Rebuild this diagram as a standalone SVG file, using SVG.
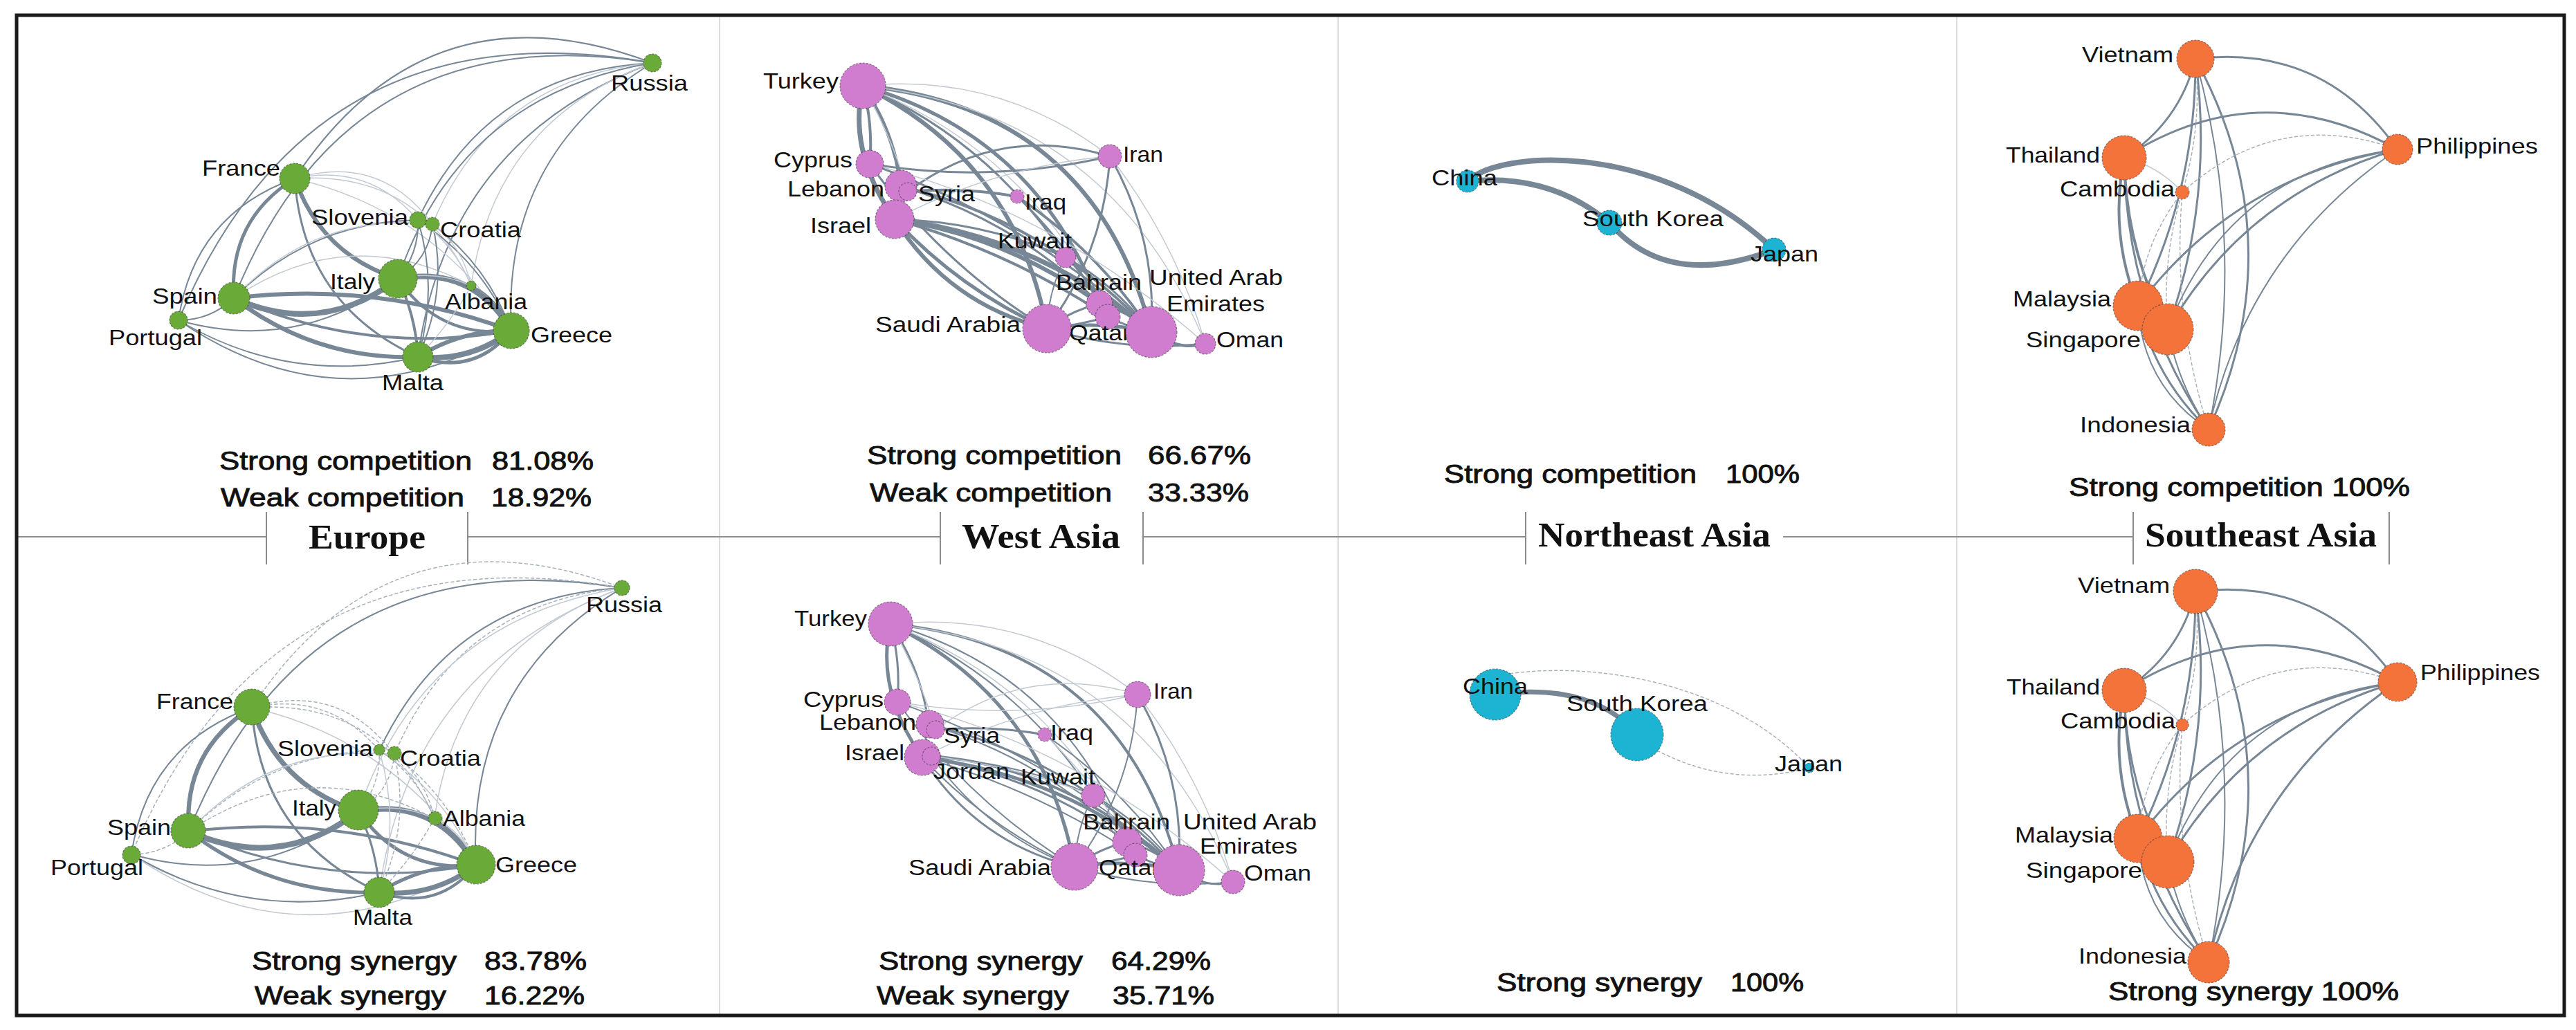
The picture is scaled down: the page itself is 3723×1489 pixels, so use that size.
<svg xmlns="http://www.w3.org/2000/svg" width="3723" height="1489" viewBox="0 0 3723 1489">
<style>
.bg{fill:#ffffff}
.frame{fill:none;stroke:#1a1a1a;stroke-width:5}
.sep{stroke:#dcdcdc;stroke-width:2}
.hl{stroke:#8c8c8c;stroke-width:2;fill:none}
.title{font-family:"Liberation Serif","Times New Roman",serif;font-weight:bold;font-size:50px;fill:#111}
.lbl{font-family:"Liberation Sans",Arial,sans-serif;font-size:32px;fill:#111}
.st{font-family:"Liberation Sans",Arial,sans-serif;font-size:37px;fill:#111;stroke:#111;stroke-width:0.9}
.edges path{fill:none;stroke:#788796;stroke-linecap:round}
.e8{stroke-width:8}.e7{stroke-width:7}.e6{stroke-width:6}.e5{stroke-width:5}.e4{stroke-width:4}.e3{stroke-width:3}.e2{stroke-width:2}
.edges path.el{stroke:#c3cad2;stroke-width:1.5}
.edges path.ed{stroke:#a9b2bc;stroke-width:1.5;stroke-dasharray:4 4}
.n circle{stroke:#333;stroke-opacity:.55;stroke-width:1.2;stroke-dasharray:3 2}
.eu circle{fill:#6aaa38}
.wa circle{fill:#d07dd0}
.ne circle{fill:#1db3d3}
.se circle{fill:#f3733b}
</style>
<rect class="bg" x="0" y="0" width="3723" height="1489"/>
<g id="frame">
<path class="sep" d="M1040,24 V1466 M1934,24 V1466 M2828,24 V1466"/>
<path class="hl" d="M24,776 H385 M676,776 H1359 M1652,776 H2205 M2577,776 H3083"/>
<path class="hl" d="M385,740 V816 M676,740 V816 M1359,740 V816 M1652,740 V816 M2205,740 V816 M3083,740 V816 M3453,740 V816"/>
<rect class="frame" x="24" y="22" width="3682" height="1446"/>
</g>
<g id="titles">
<text class="title" x="446" y="793" textLength="169" lengthAdjust="spacingAndGlyphs">Europe</text>
<text class="title" x="1390" y="792" textLength="229" lengthAdjust="spacingAndGlyphs">West Asia</text>
<text class="title" x="2223" y="790" textLength="336" lengthAdjust="spacingAndGlyphs">Northeast Asia</text>
<text class="title" x="3100" y="790" textLength="335" lengthAdjust="spacingAndGlyphs">Southeast Asia</text>
</g>
<g id="connectors" class="edges">
<g id="eu-top-edges">
<path class="e2" d="M426,258 Q618,-32 943,91"/>
<path class="e2" d="M338,431 Q504,19 943,91"/>
<path class="e2" d="M258,463 Q452,3 943,91"/>
<path class="e2" d="M604,318 Q705,103 943,91"/>
<path class="el" d="M625,324 Q714,112 943,91"/>
<path class="e2" d="M575,403 Q665,137 943,91"/>
<path class="e2" d="M604,516 Q646,202 943,91"/>
<path class="e2" d="M739,478 Q725,223 943,91"/>
<path class="el" d="M681,413 Q715,173 943,91"/>
<path class="e5" d="M338,431 Q330,318 426,258"/>
<path class="e2" d="M258,463 Q280,310 426,258"/>
<path class="e6" d="M575,403 Q464,368 426,258"/>
<path class="e3" d="M604,516 Q438,440 426,258"/>
<path class="el" d="M426,258 Q626,305 739,478"/>
<path class="el" d="M426,258 Q533,235 604,318"/>
<path class="el" d="M426,258 Q549,221 625,324"/>
<path class="el" d="M426,258 Q608,246 681,413"/>
<path class="e8" d="M575,403 Q465,488 338,431"/>
<path class="e6" d="M338,431 Q544,406 739,478"/>
<path class="e6" d="M604,516 Q456,521 338,431"/>
<path class="e4" d="M739,478 Q531,515 338,431"/>
<path class="e2" d="M338,431 Q448,321 604,318"/>
<path class="el" d="M338,431 Q455,306 625,324"/>
<path class="el" d="M338,431 Q504,319 681,413"/>
<path class="e2" d="M338,431 Q304,463 258,463"/>
<path class="e2" d="M575,403 Q431,512 258,463"/>
<path class="e2" d="M604,516 Q420,559 258,463"/>
<path class="e2" d="M739,478 Q494,624 258,463"/>
<path class="e8" d="M575,403 Q683,383 739,478"/>
<path class="e4" d="M575,403 Q601,457 604,516"/>
<path class="e4" d="M739,478 Q635,490 575,403"/>
<path class="e8" d="M739,478 Q679,524 604,516"/>
<path class="e6" d="M604,516 Q666,477 739,478"/>
<path class="e5" d="M739,478 Q685,544 604,516"/>
<path class="e2" d="M604,318 Q606,366 575,403"/>
<path class="e2" d="M625,324 Q620,375 575,403"/>
<path class="e2" d="M604,318 Q634,417 604,516"/>
<path class="e2" d="M625,324 Q648,420 604,516"/>
<path class="e2" d="M604,318 Q696,378 739,478"/>
<path class="e2" d="M625,324 Q705,384 739,478"/>
<path class="el" d="M604,318 Q655,350 681,413"/>
<path class="el" d="M625,324 Q668,355 681,413"/>
<path class="e2" d="M681,413 Q720,430 739,478"/>
<path class="el" d="M681,413 Q650,470 604,516"/>
<path class="el" d="M575,403 Q630,390 681,413"/>
<path class="e2" d="M604,318 L625,324"/>
</g>
<g id="eu-bottom-edges" transform="matrix(1.035 0 0 1.035 -77 755.8)">
<path class="ed" d="M426,258 Q618,-32 943,91"/>
<path class="e2" d="M338,431 Q504,19 943,91"/>
<path class="ed" d="M258,463 Q452,3 943,91"/>
<path class="e2" d="M604,318 Q705,103 943,91"/>
<path class="ed" d="M625,324 Q714,112 943,91"/>
<path class="el" d="M575,403 Q665,137 943,91"/>
<path class="el" d="M604,516 Q646,202 943,91"/>
<path class="e2" d="M739,478 Q725,223 943,91"/>
<path class="el" d="M681,413 Q715,173 943,91"/>
<path class="e6" d="M338,431 Q330,318 426,258"/>
<path class="e2" d="M258,463 Q280,310 426,258"/>
<path class="e7" d="M575,403 Q464,368 426,258"/>
<path class="e3" d="M604,516 Q438,440 426,258"/>
<path class="el" d="M426,258 Q626,305 739,478"/>
<path class="ed" d="M426,258 Q533,235 604,318"/>
<path class="ed" d="M426,258 Q549,221 625,324"/>
<path class="ed" d="M426,258 Q608,246 681,413"/>
<path class="e8" d="M575,403 Q465,488 338,431"/>
<path class="e4" d="M338,431 Q544,406 739,478"/>
<path class="e5" d="M604,516 Q456,521 338,431"/>
<path class="e3" d="M739,478 Q531,515 338,431"/>
<path class="ed" d="M338,431 Q448,321 604,318"/>
<path class="el" d="M338,431 Q455,306 625,324"/>
<path class="ed" d="M338,431 Q504,319 681,413"/>
<path class="ed" d="M338,431 Q304,463 258,463"/>
<path class="e2" d="M575,403 Q431,512 258,463"/>
<path class="e2" d="M604,516 Q420,559 258,463"/>
<path class="el" d="M739,478 Q494,624 258,463"/>
<path class="e8" d="M575,403 Q683,383 739,478"/>
<path class="e3" d="M575,403 Q601,457 604,516"/>
<path class="e5" d="M739,478 Q635,490 575,403"/>
<path class="e7" d="M739,478 Q679,524 604,516"/>
<path class="e5" d="M604,516 Q666,477 739,478"/>
<path class="e4" d="M739,478 Q685,544 604,516"/>
<path class="ed" d="M604,318 Q606,366 575,403"/>
<path class="ed" d="M625,324 Q620,375 575,403"/>
<path class="el" d="M604,318 Q634,417 604,516"/>
<path class="ed" d="M625,324 Q648,420 604,516"/>
<path class="el" d="M604,318 Q696,378 739,478"/>
<path class="ed" d="M625,324 Q705,384 739,478"/>
<path class="ed" d="M604,318 Q655,350 681,413"/>
<path class="ed" d="M625,324 Q668,355 681,413"/>
<path class="el" d="M681,413 Q720,430 739,478"/>
<path class="ed" d="M681,413 Q650,470 604,516"/>
<path class="el" d="M575,403 Q630,390 681,413"/>
</g>
<g id="wa-top-edges">
<path class="e7" d="M1293,317 Q1225,220 1247,124"/>
<path class="e4" d="M1247,124 Q1262,180 1257,237"/>
<path class="e5" d="M1247,124 Q1292,190 1302,269"/>
<path class="el" d="M1247,124 Q1290,200 1312,277"/>
<path class="e6" d="M1247,124 Q1468,233 1513,475"/>
<path class="e6" d="M1247,124 Q1580,156 1664,480"/>
<path class="e5" d="M1247,124 Q1497,196 1589,439"/>
<path class="el" d="M1247,124 Q1606,162 1742,497"/>
<path class="el" d="M1247,124 Q1446,104 1604,226"/>
<path class="e3" d="M1247,124 Q1431,204 1540,372"/>
<path class="el" d="M1247,124 Q1491,220 1601,458"/>
<path class="e3" d="M1604,226 Q1432,266 1257,237"/>
<path class="e3" d="M1312,277 Q1445,178 1604,226"/>
<path class="e3" d="M1257,237 Q1485,318 1664,480"/>
<path class="e3" d="M1513,475 Q1361,382 1257,237"/>
<path class="e6" d="M1513,475 Q1371,440 1293,317"/>
<path class="e5" d="M1513,475 Q1387,418 1293,317"/>
<path class="e7" d="M1293,317 Q1503,343 1664,480"/>
<path class="e6" d="M1293,317 Q1456,342 1589,439"/>
<path class="e4" d="M1293,317 Q1458,363 1601,458"/>
<path class="e3" d="M1293,317 Q1422,320 1540,372"/>
<path class="e4" d="M1302,269 Q1515,320 1664,480"/>
<path class="e4" d="M1312,277 Q1391,270 1470,284"/>
<path class="e4" d="M1470,284 Q1587,363 1664,480"/>
<path class="e3" d="M1470,284 Q1540,350 1589,439"/>
<path class="el" d="M1293,317 Q1440,240 1604,226"/>
<path class="e3" d="M1604,226 Q1596,364 1513,475"/>
<path class="e3" d="M1604,226 Q1672,344 1664,480"/>
<path class="el" d="M1604,226 Q1700,350 1742,497"/>
<path class="e5" d="M1513,475 Q1589,463 1664,480"/>
<path class="e3" d="M1513,475 Q1545,450 1589,439"/>
<path class="e3" d="M1513,475 Q1560,470 1601,458"/>
<path class="e3" d="M1589,439 Q1630,450 1664,480"/>
<path class="e3" d="M1601,458 Q1635,475 1664,480"/>
<path class="e4" d="M1742,497 Q1705,508 1664,480"/>
<path class="e3" d="M1742,497 Q1625,509 1513,475"/>
<path class="e3" d="M1540,372 Q1610,410 1664,480"/>
<path class="e2" d="M1540,372 Q1515,420 1513,475"/>
<path class="el" d="M1257,237 Q1520,300 1742,497"/>
<path class="e3" d="M1302,269 Q1470,320 1589,439"/>
<path class="e2" d="M1540,372 Q1570,400 1589,439"/>
</g>
<g id="wa-bottom-edges" transform="translate(40,778)">
<path class="e5" d="M1293,317 Q1225,220 1247,124"/>
<path class="e3" d="M1247,124 Q1262,180 1257,237"/>
<path class="e3" d="M1247,124 Q1292,190 1302,269"/>
<path class="el" d="M1247,124 Q1290,200 1312,277"/>
<path class="e5" d="M1247,124 Q1468,233 1513,475"/>
<path class="e4" d="M1247,124 Q1580,156 1664,480"/>
<path class="e2" d="M1247,124 Q1497,196 1589,439"/>
<path class="el" d="M1247,124 Q1606,162 1742,497"/>
<path class="el" d="M1247,124 Q1446,104 1604,226"/>
<path class="e2" d="M1247,124 Q1431,204 1540,372"/>
<path class="el" d="M1247,124 Q1491,220 1601,458"/>
<path class="el" d="M1604,226 Q1432,266 1257,237"/>
<path class="el" d="M1312,277 Q1445,178 1604,226"/>
<path class="e2" d="M1257,237 Q1485,318 1664,480"/>
<path class="e2" d="M1513,475 Q1361,382 1257,237"/>
<path class="e3" d="M1513,475 Q1371,440 1293,317"/>
<path class="e2" d="M1513,475 Q1387,418 1293,317"/>
<path class="e5" d="M1293,317 Q1503,343 1664,480"/>
<path class="e3" d="M1293,317 Q1456,342 1589,439"/>
<path class="e2" d="M1293,317 Q1458,363 1601,458"/>
<path class="e2" d="M1293,317 Q1422,320 1540,372"/>
<path class="e3" d="M1302,269 Q1515,320 1664,480"/>
<path class="e3" d="M1312,277 Q1391,270 1470,284"/>
<path class="e2" d="M1470,284 Q1587,363 1664,480"/>
<path class="el" d="M1470,284 Q1540,350 1589,439"/>
<path class="el" d="M1293,317 Q1440,240 1604,226"/>
<path class="e2" d="M1604,226 Q1596,364 1513,475"/>
<path class="e3" d="M1604,226 Q1672,344 1664,480"/>
<path class="el" d="M1604,226 Q1700,350 1742,497"/>
<path class="e5" d="M1513,475 Q1589,463 1664,480"/>
<path class="e3" d="M1513,475 Q1545,450 1589,439"/>
<path class="e3" d="M1513,475 Q1560,470 1601,458"/>
<path class="e3" d="M1589,439 Q1630,450 1664,480"/>
<path class="e3" d="M1601,458 Q1635,475 1664,480"/>
<path class="e3" d="M1742,497 Q1705,508 1664,480"/>
<path class="e2" d="M1742,497 Q1625,509 1513,475"/>
<path class="e2" d="M1540,372 Q1610,410 1664,480"/>
<path class="e2" d="M1540,372 Q1515,420 1513,475"/>
<path class="el" d="M1257,237 Q1520,300 1742,497"/>
<path class="e2" d="M1302,269 Q1470,320 1589,439"/>
<path class="e4" d="M1306,315 Q1500,330 1664,480"/>
<path class="e2" d="M1513,475 Q1390,430 1306,315"/>
<path class="el" d="M1306,315 Q1430,330 1540,372"/>
</g>
<g id="ne-top-edges">
<path class="e8" d="M2121,262 C2170,215 2400,205 2564,361"/>
<path class="e8" d="M2121,262 Q2240,250 2326,322"/>
<path class="e8" d="M2326,322 Q2410,420 2564,361"/>
</g>
<g id="ne-bottom-edges">
<path class="e7" d="M2161,1004 Q2300,985 2366,1062"/>
<path class="ed" d="M2175,975 C2300,955 2500,985 2615,1110"/>
<path class="ed" d="M2395,1085 Q2500,1140 2615,1110"/>
</g>
<g id="se-top-edges">
<path class="e3" d="M3173,85 Q3358,63 3465,216"/>
<path class="e3" d="M3070,228 Q3264,104 3465,216"/>
<path class="e3" d="M3173,85 Q3150,177 3070,228"/>
<path class="e3" d="M3173,85 Q3316,348 3192,621"/>
<path class="e3" d="M3173,85 Q3174,273 3090,442"/>
<path class="e3" d="M3173,85 Q3200,285 3133,476"/>
<path class="e2" d="M3173,85 Q3247,351 3192,621"/>
<path class="ed" d="M3173,85 Q3183,183 3154,278"/>
<path class="e4" d="M3090,442 Q3048,338 3070,228"/>
<path class="e4" d="M3133,476 Q3072,360 3070,228"/>
<path class="e3" d="M3192,621 Q3072,443 3070,228"/>
<path class="el" d="M3070,228 Q3120,240 3154,278"/>
<path class="ed" d="M3154,278 Q3291,154 3465,216"/>
<path class="ed" d="M3090,442 Q3097,350 3154,278"/>
<path class="ed" d="M3133,476 Q3124,375 3154,278"/>
<path class="ed" d="M3192,621 Q3139,453 3154,278"/>
<path class="e3" d="M3090,442 Q3232,254 3465,216"/>
<path class="e3" d="M3133,476 Q3247,280 3465,216"/>
<path class="e2" d="M3133,476 Q3221,246 3465,216"/>
<path class="e2" d="M3192,621 Q3248,364 3465,216"/>
<path class="e3" d="M3192,621 Q3114,547 3090,442"/>
<path class="e2" d="M3192,621 Q3148,555 3133,476"/>
<path class="e2" d="M3192,621 Q3096,557 3090,442"/>
</g>
<g id="se-bottom-edges" transform="translate(0,770)">
<path class="e3" d="M3173,85 Q3358,63 3465,216"/>
<path class="e3" d="M3070,228 Q3264,104 3465,216"/>
<path class="e3" d="M3173,85 Q3150,177 3070,228"/>
<path class="e3" d="M3173,85 Q3316,348 3192,621"/>
<path class="e3" d="M3173,85 Q3174,273 3090,442"/>
<path class="e3" d="M3173,85 Q3200,285 3133,476"/>
<path class="e2" d="M3173,85 Q3247,351 3192,621"/>
<path class="ed" d="M3173,85 Q3183,183 3154,278"/>
<path class="e4" d="M3090,442 Q3048,338 3070,228"/>
<path class="e3" d="M3133,476 Q3072,360 3070,228"/>
<path class="e3" d="M3192,621 Q3072,443 3070,228"/>
<path class="el" d="M3070,228 Q3120,240 3154,278"/>
<path class="ed" d="M3154,278 Q3291,154 3465,216"/>
<path class="ed" d="M3090,442 Q3097,350 3154,278"/>
<path class="ed" d="M3133,476 Q3124,375 3154,278"/>
<path class="ed" d="M3192,621 Q3139,453 3154,278"/>
<path class="e3" d="M3090,442 Q3232,254 3465,216"/>
<path class="e3" d="M3133,476 Q3247,280 3465,216"/>
<path class="e2" d="M3133,476 Q3221,246 3465,216"/>
<path class="e3" d="M3192,621 Q3248,364 3465,216"/>
<path class="e3" d="M3192,621 Q3114,547 3090,442"/>
<path class="e2" d="M3192,621 Q3148,555 3133,476"/>
<path class="e2" d="M3192,621 Q3096,557 3090,442"/>
</g>
</g>
<g id="nodes">
<g id="eu-c-russia" class="n eu"><circle cx="943" cy="91" r="13"/><text class="lbl" x="883" y="131" textLength="111" lengthAdjust="spacingAndGlyphs">Russia</text></g>
<g id="eu-c-france" class="n eu"><circle cx="426" cy="258" r="22"/><text class="lbl" x="292" y="254" textLength="113" lengthAdjust="spacingAndGlyphs">France</text></g>
<g id="eu-c-slovenia" class="n eu"><circle cx="604" cy="318" r="12"/><text class="lbl" x="450" y="325" textLength="140" lengthAdjust="spacingAndGlyphs">Slovenia</text></g>
<g id="eu-c-croatia" class="n eu"><circle cx="625" cy="324" r="10"/><text class="lbl" x="636" y="343" textLength="117" lengthAdjust="spacingAndGlyphs">Croatia</text></g>
<g id="eu-c-italy" class="n eu"><circle cx="575" cy="403" r="28"/><text class="lbl" x="477" y="418" textLength="65" lengthAdjust="spacingAndGlyphs">Italy</text></g>
<g id="eu-c-albania" class="n eu"><circle cx="681" cy="413" r="7"/><text class="lbl" x="643" y="447" textLength="119" lengthAdjust="spacingAndGlyphs">Albania</text></g>
<g id="eu-c-spain" class="n eu"><circle cx="338" cy="431" r="23"/><text class="lbl" x="220" y="439" textLength="94" lengthAdjust="spacingAndGlyphs">Spain</text></g>
<g id="eu-c-portugal" class="n eu"><circle cx="258" cy="463" r="13"/><text class="lbl" x="157" y="499" textLength="135" lengthAdjust="spacingAndGlyphs">Portugal</text></g>
<g id="eu-c-greece" class="n eu"><circle cx="739" cy="478" r="26"/><text class="lbl" x="767" y="495" textLength="118" lengthAdjust="spacingAndGlyphs">Greece</text></g>
<g id="eu-c-malta" class="n eu"><circle cx="604" cy="516" r="22"/><text class="lbl" x="552" y="564" textLength="89" lengthAdjust="spacingAndGlyphs">Malta</text></g>

<g id="eu-s-russia" class="n eu"><circle cx="899" cy="850" r="11"/><text class="lbl" x="847" y="885" textLength="110" lengthAdjust="spacingAndGlyphs">Russia</text></g>
<g id="eu-s-france" class="n eu"><circle cx="364" cy="1022" r="26"/><text class="lbl" x="226" y="1025" textLength="111" lengthAdjust="spacingAndGlyphs">France</text></g>
<g id="eu-s-slovenia" class="n eu"><circle cx="548" cy="1084" r="8"/><text class="lbl" x="401" y="1093" textLength="138" lengthAdjust="spacingAndGlyphs">Slovenia</text></g>
<g id="eu-s-croatia" class="n eu"><circle cx="570" cy="1089" r="10"/><text class="lbl" x="578" y="1107" textLength="117" lengthAdjust="spacingAndGlyphs">Croatia</text></g>
<g id="eu-s-italy" class="n eu"><circle cx="518" cy="1171" r="29"/><text class="lbl" x="422" y="1179" textLength="64" lengthAdjust="spacingAndGlyphs">Italy</text></g>
<g id="eu-s-albania" class="n eu"><circle cx="629" cy="1183" r="10"/><text class="lbl" x="640" y="1194" textLength="119" lengthAdjust="spacingAndGlyphs">Albania</text></g>
<g id="eu-s-spain" class="n eu"><circle cx="272" cy="1201" r="25"/><text class="lbl" x="155" y="1207" textLength="92" lengthAdjust="spacingAndGlyphs">Spain</text></g>
<g id="eu-s-portugal" class="n eu"><circle cx="190" cy="1236" r="13"/><text class="lbl" x="73" y="1265" textLength="134" lengthAdjust="spacingAndGlyphs">Portugal</text></g>
<g id="eu-s-greece" class="n eu"><circle cx="688" cy="1250" r="28"/><text class="lbl" x="716" y="1261" textLength="118" lengthAdjust="spacingAndGlyphs">Greece</text></g>
<g id="eu-s-malta" class="n eu"><circle cx="548" cy="1290" r="22"/><text class="lbl" x="510" y="1337" textLength="86" lengthAdjust="spacingAndGlyphs">Malta</text></g>

<g id="wa-c-turkey" class="n wa"><circle cx="1247" cy="124" r="33"/><text class="lbl" x="1103" y="128" textLength="109" lengthAdjust="spacingAndGlyphs">Turkey</text></g>
<g id="wa-c-cyprus" class="n wa"><circle cx="1257" cy="237" r="20"/><text class="lbl" x="1118" y="242" textLength="114" lengthAdjust="spacingAndGlyphs">Cyprus</text></g>
<g id="wa-c-lebanon" class="n wa"><circle cx="1302" cy="269" r="23"/><text class="lbl" x="1138" y="284" textLength="140" lengthAdjust="spacingAndGlyphs">Lebanon</text></g>
<g id="wa-c-syria" class="n wa"><circle cx="1312" cy="277" r="13"/><text class="lbl" x="1327" y="291" textLength="82" lengthAdjust="spacingAndGlyphs">Syria</text></g>
<g id="wa-c-israel" class="n wa"><circle cx="1293" cy="317" r="28"/><text class="lbl" x="1171" y="337" textLength="88" lengthAdjust="spacingAndGlyphs">Israel</text></g>
<g id="wa-c-iran" class="n wa"><circle cx="1604" cy="226" r="17"/><text class="lbl" x="1623" y="234" textLength="58" lengthAdjust="spacingAndGlyphs">Iran</text></g>
<g id="wa-c-iraq" class="n wa"><circle cx="1470" cy="284" r="10"/><text class="lbl" x="1481" y="303" textLength="60" lengthAdjust="spacingAndGlyphs">Iraq</text></g>
<g id="wa-c-kuwait" class="n wa"><circle cx="1540" cy="372" r="15"/><text class="lbl" x="1442" y="359" textLength="107" lengthAdjust="spacingAndGlyphs">Kuwait</text></g>
<g id="wa-c-bahrain" class="n wa"><circle cx="1589" cy="439" r="19"/><text class="lbl" x="1526" y="419" textLength="124" lengthAdjust="spacingAndGlyphs">Bahrain</text></g>
<g id="wa-c-qatar" class="n wa"><circle cx="1601" cy="458" r="18"/><text class="lbl" x="1545" y="492" textLength="89" lengthAdjust="spacingAndGlyphs">Qatar</text></g>
<g id="wa-c-saudi" class="n wa"><circle cx="1513" cy="475" r="35"/><text class="lbl" x="1265" y="480" textLength="210" lengthAdjust="spacingAndGlyphs">Saudi Arabia</text></g>
<g id="wa-c-uae" class="n wa"><circle cx="1664" cy="480" r="37"/><text class="lbl" x="1661" y="412" textLength="193" lengthAdjust="spacingAndGlyphs">United Arab</text><text class="lbl" x="1686" y="450" textLength="142" lengthAdjust="spacingAndGlyphs">Emirates</text></g>
<g id="wa-c-oman" class="n wa"><circle cx="1742" cy="497" r="15"/><text class="lbl" x="1758" y="502" textLength="97" lengthAdjust="spacingAndGlyphs">Oman</text></g>

<g id="wa-s-turkey" class="n wa"><circle cx="1287" cy="902" r="32"/><text class="lbl" x="1148" y="905" textLength="105" lengthAdjust="spacingAndGlyphs">Turkey</text></g>
<g id="wa-s-cyprus" class="n wa"><circle cx="1297" cy="1015" r="19"/><text class="lbl" x="1161" y="1022" textLength="116" lengthAdjust="spacingAndGlyphs">Cyprus</text></g>
<g id="wa-s-lebanon" class="n wa"><circle cx="1344" cy="1047" r="20"/><text class="lbl" x="1184" y="1055" textLength="140" lengthAdjust="spacingAndGlyphs">Lebanon</text></g>
<g id="wa-s-syria" class="n wa"><circle cx="1352" cy="1055" r="13"/><text class="lbl" x="1364" y="1074" textLength="81" lengthAdjust="spacingAndGlyphs">Syria</text></g>
<g id="wa-s-israel" class="n wa"><circle cx="1333" cy="1095" r="26"/><text class="lbl" x="1221" y="1099" textLength="86" lengthAdjust="spacingAndGlyphs">Israel</text></g>
<g id="wa-s-jordan" class="n wa"><circle cx="1346" cy="1093" r="13"/><text class="lbl" x="1349" y="1126" textLength="110" lengthAdjust="spacingAndGlyphs">Jordan</text></g>
<g id="wa-s-iran" class="n wa"><circle cx="1644" cy="1004" r="19"/><text class="lbl" x="1667" y="1010" textLength="57" lengthAdjust="spacingAndGlyphs">Iran</text></g>
<g id="wa-s-iraq" class="n wa"><circle cx="1510" cy="1062" r="10"/><text class="lbl" x="1518" y="1070" textLength="62" lengthAdjust="spacingAndGlyphs">Iraq</text></g>
<g id="wa-s-kuwait" class="n wa"><circle cx="1580" cy="1150" r="17"/><text class="lbl" x="1475" y="1134" textLength="108" lengthAdjust="spacingAndGlyphs">Kuwait</text></g>
<g id="wa-s-bahrain" class="n wa"><circle cx="1629" cy="1217" r="21"/><text class="lbl" x="1565" y="1199" textLength="126" lengthAdjust="spacingAndGlyphs">Bahrain</text></g>
<g id="wa-s-qatar" class="n wa"><circle cx="1641" cy="1236" r="17"/><text class="lbl" x="1588" y="1265" textLength="88" lengthAdjust="spacingAndGlyphs">Qatar</text></g>
<g id="wa-s-saudi" class="n wa"><circle cx="1553" cy="1253" r="34"/><text class="lbl" x="1313" y="1265" textLength="206" lengthAdjust="spacingAndGlyphs">Saudi Arabia</text></g>
<g id="wa-s-uae" class="n wa"><circle cx="1704" cy="1258" r="37"/><text class="lbl" x="1710" y="1199" textLength="193" lengthAdjust="spacingAndGlyphs">United Arab</text><text class="lbl" x="1734" y="1234" textLength="141" lengthAdjust="spacingAndGlyphs">Emirates</text></g>
<g id="wa-s-oman" class="n wa"><circle cx="1782" cy="1275" r="17"/><text class="lbl" x="1798" y="1273" textLength="97" lengthAdjust="spacingAndGlyphs">Oman</text></g>

<g id="ne-c-china" class="n ne"><circle cx="2121" cy="262" r="16"/><text class="lbl" x="2069" y="268" textLength="95" lengthAdjust="spacingAndGlyphs">China</text></g>
<g id="ne-c-korea" class="n ne"><circle cx="2326" cy="322" r="18"/><text class="lbl" x="2287" y="327" textLength="204" lengthAdjust="spacingAndGlyphs">South Korea</text></g>
<g id="ne-c-japan" class="n ne"><circle cx="2564" cy="361" r="17"/><text class="lbl" x="2530" y="378" textLength="98" lengthAdjust="spacingAndGlyphs">Japan</text></g>
<g id="ne-s-china" class="n ne"><circle cx="2161" cy="1004" r="37"/><text class="lbl" x="2114" y="1003" textLength="94" lengthAdjust="spacingAndGlyphs">China</text></g>
<g id="ne-s-korea" class="n ne"><circle cx="2366" cy="1062" r="38"/><text class="lbl" x="2264" y="1028" textLength="204" lengthAdjust="spacingAndGlyphs">South Korea</text></g>
<g id="ne-s-japan" class="n ne"><circle cx="2615" cy="1110" r="7"/><text class="lbl" x="2565" y="1115" textLength="98" lengthAdjust="spacingAndGlyphs">Japan</text></g>

<g id="se-c-vietnam" class="n se"><circle cx="3173" cy="85" r="27"/><text class="lbl" x="3009" y="90" textLength="132" lengthAdjust="spacingAndGlyphs">Vietnam</text></g>
<g id="se-c-philippines" class="n se"><circle cx="3465" cy="216" r="22"/><text class="lbl" x="3492" y="222" textLength="176" lengthAdjust="spacingAndGlyphs">Philippines</text></g>
<g id="se-c-thailand" class="n se"><circle cx="3070" cy="228" r="32"/><text class="lbl" x="2899" y="235" textLength="136" lengthAdjust="spacingAndGlyphs">Thailand</text></g>
<g id="se-c-cambodia" class="n se"><circle cx="3154" cy="278" r="10"/><text class="lbl" x="2977" y="284" textLength="166" lengthAdjust="spacingAndGlyphs">Cambodia</text></g>
<g id="se-c-malaysia" class="n se"><circle cx="3090" cy="442" r="36"/><text class="lbl" x="2909" y="443" textLength="142" lengthAdjust="spacingAndGlyphs">Malaysia</text></g>
<g id="se-c-singapore" class="n se"><circle cx="3133" cy="476" r="37"/><text class="lbl" x="2928" y="502" textLength="166" lengthAdjust="spacingAndGlyphs">Singapore</text></g>
<g id="se-c-indonesia" class="n se"><circle cx="3192" cy="621" r="24"/><text class="lbl" x="3006" y="625" textLength="160" lengthAdjust="spacingAndGlyphs">Indonesia</text></g>
<g id="se-s-vietnam" class="n se"><circle cx="3173" cy="855" r="32"/><text class="lbl" x="3003" y="857" textLength="133" lengthAdjust="spacingAndGlyphs">Vietnam</text></g>
<g id="se-s-philippines" class="n se"><circle cx="3465" cy="986" r="28"/><text class="lbl" x="3498" y="983" textLength="173" lengthAdjust="spacingAndGlyphs">Philippines</text></g>
<g id="se-s-thailand" class="n se"><circle cx="3070" cy="998" r="32"/><text class="lbl" x="2900" y="1004" textLength="135" lengthAdjust="spacingAndGlyphs">Thailand</text></g>
<g id="se-s-cambodia" class="n se"><circle cx="3154" cy="1048" r="9"/><text class="lbl" x="2978" y="1053" textLength="166" lengthAdjust="spacingAndGlyphs">Cambodia</text></g>
<g id="se-s-malaysia" class="n se"><circle cx="3090" cy="1212" r="35"/><text class="lbl" x="2912" y="1218" textLength="142" lengthAdjust="spacingAndGlyphs">Malaysia</text></g>
<g id="se-s-singapore" class="n se"><circle cx="3133" cy="1246" r="38"/><text class="lbl" x="2928" y="1269" textLength="168" lengthAdjust="spacingAndGlyphs">Singapore</text></g>
<g id="se-s-indonesia" class="n se"><circle cx="3192" cy="1391" r="30"/><text class="lbl" x="3004" y="1393" textLength="156" lengthAdjust="spacingAndGlyphs">Indonesia</text></g>
</g>
<g id="stats">
<text class="st" x="317" y="679" textLength="365" lengthAdjust="spacingAndGlyphs">Strong competition</text>
<text class="st" x="711" y="679" textLength="147" lengthAdjust="spacingAndGlyphs">81.08%</text>
<text class="st" x="319" y="732" textLength="352" lengthAdjust="spacingAndGlyphs">Weak competition</text>
<text class="st" x="710" y="732" textLength="145" lengthAdjust="spacingAndGlyphs">18.92%</text>
<text class="st" x="1253" y="671" textLength="368" lengthAdjust="spacingAndGlyphs">Strong competition</text>
<text class="st" x="1659" y="671" textLength="149" lengthAdjust="spacingAndGlyphs">66.67%</text>
<text class="st" x="1257" y="725" textLength="350" lengthAdjust="spacingAndGlyphs">Weak competition</text>
<text class="st" x="1659" y="725" textLength="146" lengthAdjust="spacingAndGlyphs">33.33%</text>
<text class="st" x="2087" y="698" textLength="365" lengthAdjust="spacingAndGlyphs">Strong competition</text>
<text class="st" x="2494" y="698" textLength="107" lengthAdjust="spacingAndGlyphs">100%</text>
<text class="st" x="2990" y="717" textLength="493" lengthAdjust="spacingAndGlyphs">Strong competition 100%</text>
<text class="st" x="364" y="1402" textLength="296" lengthAdjust="spacingAndGlyphs">Strong synergy</text>
<text class="st" x="700" y="1402" textLength="148" lengthAdjust="spacingAndGlyphs">83.78%</text>
<text class="st" x="368" y="1452" textLength="277" lengthAdjust="spacingAndGlyphs">Weak synergy</text>
<text class="st" x="700" y="1452" textLength="145" lengthAdjust="spacingAndGlyphs">16.22%</text>
<text class="st" x="1270" y="1402" textLength="295" lengthAdjust="spacingAndGlyphs">Strong synergy</text>
<text class="st" x="1606" y="1402" textLength="144" lengthAdjust="spacingAndGlyphs">64.29%</text>
<text class="st" x="1267" y="1452" textLength="278" lengthAdjust="spacingAndGlyphs">Weak synergy</text>
<text class="st" x="1608" y="1452" textLength="147" lengthAdjust="spacingAndGlyphs">35.71%</text>
<text class="st" x="2163" y="1433" textLength="297" lengthAdjust="spacingAndGlyphs">Strong synergy</text>
<text class="st" x="2501" y="1433" textLength="106" lengthAdjust="spacingAndGlyphs">100%</text>
<text class="st" x="3047" y="1446" textLength="420" lengthAdjust="spacingAndGlyphs">Strong synergy 100%</text>
</g>
</svg>
